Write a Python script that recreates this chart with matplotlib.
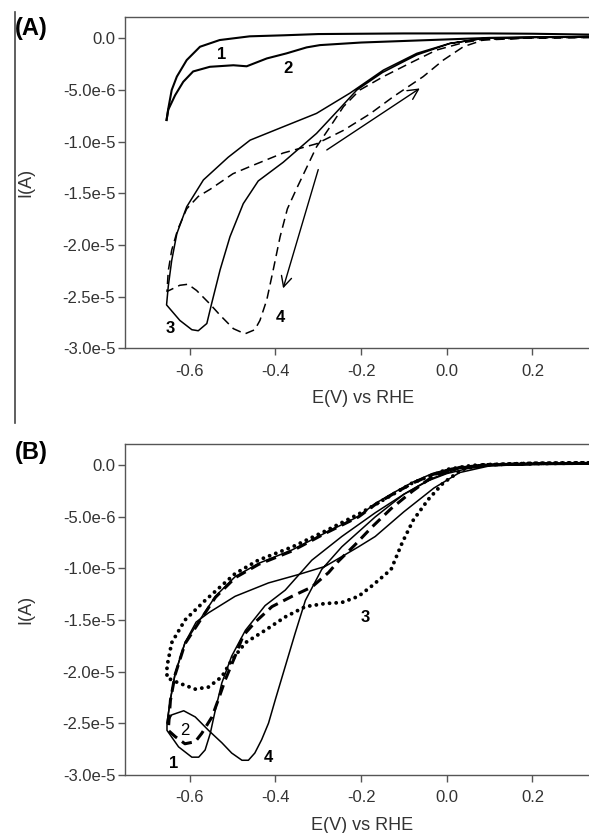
import numpy as np
import matplotlib.pyplot as plt
from matplotlib.lines import Line2D

plt.rcParams['font.family'] = ['Liberation Sans', 'DejaVu Sans']

# currents are in microamps, converted to A when plotted
scale = 1e-6

# ---- panel (A) ----
a1_E = [0.36, 0.2, 0.1, 0.0, -0.1, -0.2, -0.3, -0.38, -0.46, -0.53, -0.576, -0.607, -0.63, -0.642, -0.65, -0.654]
a1_I = [0.35, 0.45, 0.48, 0.48, 0.48, 0.45, 0.42, 0.3, 0.2, -0.16, -0.81, -2.1, -3.7, -5.0, -6.8, -7.9]

a2_E = [-0.654, -0.65, -0.634, -0.615, -0.592, -0.553, -0.498, -0.467, -0.42, -0.374, -0.327, -0.296,
        -0.2, -0.1, 0.0, 0.1, 0.2, 0.36]
a2_I = [-7.9, -6.9, -5.5, -4.2, -3.2, -2.75, -2.6, -2.7, -1.94, -1.45, -0.87, -0.65,
        -0.4, -0.25, -0.1, 0.05, 0.12, 0.15]

a3_E = [0.36, 0.2, 0.085, 0.007, -0.07, -0.148, -0.226, -0.304, -0.382, -0.459, -0.51, -0.568, -0.607,
        -0.63, -0.642, -0.65, -0.654, -0.623, -0.595, -0.58, -0.56, -0.549, -0.529, -0.506, -0.475,
        -0.44, -0.382, -0.304, -0.25, -0.21, -0.15, -0.07, 0.007, 0.085, 0.2, 0.36]
a3_I = [0.2, 0.1, 0.0, -0.48, -1.45, -3.07, -5.3, -7.26, -8.56, -9.85, -11.5, -13.7, -16.3,
        -18.9, -21.5, -24.0, -25.8, -27.3, -28.2, -28.3, -27.6, -25.7, -22.4, -19.2, -16.0,
        -13.8, -12.0, -9.2, -6.8, -5.0, -3.3, -1.6, -0.5, 0.0, 0.1, 0.2]

a4_E = [0.36, 0.2, 0.085, 0.04, -0.024, -0.086, -0.148, -0.203, -0.241, -0.273, -0.304, -0.327, -0.35,
        -0.372, -0.389, -0.405, -0.42, -0.436, -0.448, -0.471, -0.498, -0.529, -0.553, -0.584, -0.604,
        -0.623, -0.653, -0.65, -0.642, -0.628, -0.607, -0.58, -0.552, -0.499, -0.459, -0.382, -0.304,
        -0.241, -0.179, -0.125, -0.055, -0.008, 0.039, 0.085, 0.2, 0.36]
a4_I = [0.1, 0.05, -0.1, -0.4, -1.13, -2.4, -3.7, -5.0, -6.6, -8.6, -10.5, -12.5, -14.5,
        -16.5, -19.2, -22.4, -25.3, -27.3, -28.2, -28.6, -28.1, -26.8, -25.7, -24.4, -23.8,
        -23.9, -24.5, -22.5, -20.5, -18.5, -16.5, -15.3, -14.6, -13.1, -12.4, -11.1, -10.2,
        -8.9, -7.3, -5.65, -3.7, -2.1, -0.8, -0.16, 0.05, 0.1]

a_labels = ['1', '2', '3', '4']
a_label_E = [-0.526, -0.37, -0.646, -0.389]
a_label_I = [-1.6, -2.9, -28.1, -27.0]

a_arrow_start = [(-0.28, -10.8), (-0.30, -12.7)]
a_arrow_end = [(-0.063, -4.84), (-0.382, -24.2)]

# ---- panel (B) ----
b1_E = [0.36, 0.2, 0.1, 0.06, 0.01, -0.034, -0.078, -0.122, -0.167, -0.206, -0.284, -0.361, -0.439,
        -0.494, -0.54, -0.575, -0.611, -0.634, -0.645, -0.653, -0.653, -0.626, -0.595, -0.579, -0.564,
        -0.552, -0.54, -0.525, -0.502, -0.47, -0.424, -0.377, -0.315, -0.245, -0.167, -0.1, -0.03,
        0.03, 0.1, 0.2, 0.36]
b1_I = [0.2, 0.15, 0.05, -0.05, -0.3, -0.8, -1.6, -2.6, -3.7, -4.95, -6.56, -8.2, -9.5,
        -10.8, -12.7, -14.9, -17.2, -20.2, -22.7, -25.0, -25.7, -27.3, -28.3, -28.3, -27.6,
        -26.0, -23.7, -21.1, -18.5, -16.0, -13.6, -12.1, -9.2, -6.9, -4.6, -2.8, -1.2,
        -0.3, 0.0, 0.1, 0.15]

b2_E = [0.36, 0.2, 0.1, 0.06, 0.01, -0.034, -0.078, -0.122, -0.167, -0.206, -0.284, -0.361, -0.439,
        -0.494, -0.54, -0.575, -0.611, -0.634, -0.645, -0.65, -0.634, -0.611, -0.587, -0.572, -0.548,
        -0.533, -0.517, -0.494, -0.475, -0.447, -0.408, -0.361, -0.315, -0.276, -0.253, -0.214,
        -0.175, -0.13, -0.08, -0.03, 0.03, 0.1, 0.2, 0.36]
b2_I = [0.2, 0.15, 0.05, -0.1, -0.4, -0.9, -1.7, -2.7, -3.8, -5.0, -6.6, -8.3, -9.6,
        -10.9, -12.8, -15.0, -17.3, -20.3, -22.8, -25.7, -26.3, -27.0, -26.8, -26.0, -24.4,
        -22.7, -20.8, -18.5, -16.5, -15.2, -13.7, -12.7, -11.8, -10.4, -9.3, -7.7,
        -6.0, -4.2, -2.5, -1.0, -0.2, 0.05, 0.15, 0.2]

b3_E = [0.36, 0.2, 0.089, 0.036, -0.008, -0.043, -0.078, -0.104, -0.13, -0.175, -0.206, -0.245, -0.284,
        -0.33, -0.377, -0.424, -0.47, -0.502, -0.525, -0.556, -0.587, -0.626, -0.653, -0.653, -0.642,
        -0.611, -0.564, -0.494, -0.44, -0.36, -0.28, -0.2, -0.15, -0.08, 0.0, 0.06, 0.2, 0.36]
b3_I = [0.25, 0.2, 0.07, -0.4, -1.7, -3.3, -5.3, -7.5, -10.1, -11.7, -12.7, -13.3, -13.4,
        -13.7, -14.7, -16.0, -17.2, -18.9, -20.5, -21.5, -21.7, -21.1, -20.6, -19.5, -17.2,
        -15.0, -13.1, -10.5, -9.2, -7.9, -6.3, -4.6, -3.4, -1.7, -0.4, 0.0, 0.2, 0.25]

b4_E = [0.36, 0.2, 0.1, 0.05, 0.0, -0.05, -0.1, -0.167, -0.245, -0.292, -0.33, -0.354, -0.377, -0.40,
        -0.416, -0.432, -0.448, -0.463, -0.478, -0.502, -0.525, -0.556, -0.587, -0.614, -0.642, -0.653,
        -0.645, -0.634, -0.611, -0.585, -0.556, -0.494, -0.416, -0.347, -0.284, -0.206, -0.167, -0.1,
        -0.03, 0.03, 0.1, 0.2, 0.36]
b4_I = [0.15, 0.1, 0.0, -0.3, -0.8, -1.6, -2.8, -5.0, -7.9, -10.1, -13.1, -16.3, -19.5, -22.7,
        -25.0, -26.6, -27.9, -28.6, -28.6, -27.9, -26.9, -25.7, -24.4, -23.8, -24.2, -25.0,
        -22.7, -20.2, -17.2, -15.2, -14.3, -12.7, -11.4, -10.6, -9.8, -7.9, -6.9, -4.5,
        -2.2, -0.7, -0.05, 0.1, 0.15]

b_labels = ['1', '2', '3', '4']
b_label_E = [-0.638, -0.611, -0.19, -0.416]
b_label_I = [-28.9, -25.7, -14.8, -28.3]

x_ticks = [-0.6, -0.4, -0.2, 0.0, 0.2]
x_tick_labels = ['-0.6', '-0.4', '-0.2', '0.0', '0.2']
y_ticks = [0.0, -5e-6, -1e-5, -1.5e-5, -2e-5, -2.5e-5, -3e-5]
y_tick_labels = ['0.0', '-5.0e-6', '-1.0e-5', '-1.5e-5', '-2.0e-5', '-2.5e-5', '-3.0e-5']

W, H = 589, 833
fig = plt.figure(figsize=(W / 100, H / 100), dpi=100)

ax_a = fig.add_axes([125 / W, 1 - 348.3 / H, 476 / W, 331.6 / H])
ax_b = fig.add_axes([125 / W, 1 - 774.7 / H, 476 / W, 331.0 / H])


def style_axes(ax):
    ax.set_xlim(-0.751, 0.36)
    ax.set_ylim(-3.0e-5, 2.1e-6)
    ax.set_xticks(x_ticks)
    ax.set_xticklabels(x_tick_labels)
    ax.set_yticks(y_ticks)
    ax.set_yticklabels(y_tick_labels)
    for s in ax.spines.values():
        s.set_color('#555555')
        s.set_linewidth(1.0)
    ax.tick_params(direction='out', length=5, width=1, color='#555555',
                   labelsize=12, labelcolor='#333333')
    ax.tick_params(axis='x', pad=6)
    ax.tick_params(axis='y', pad=2)


def cur(vals):
    return np.array(vals) * scale


style_axes(ax_a)
ax_a.plot(a1_E, cur(a1_I), color='black', lw=1.5)
ax_a.plot(a2_E, cur(a2_I), color='black', lw=1.5)
ax_a.plot(a3_E, cur(a3_I), color='black', lw=1.1)
ax_a.plot(a4_E, cur(a4_I), color='black', lw=1.1, ls=(0, (6, 3.5)))
for t, e, i in zip(a_labels, a_label_E, a_label_I):
    ax_a.text(e, i * scale, t, fontsize=12, fontweight='bold', ha='center', va='center')
for (e0, i0), (e1, i1) in zip(a_arrow_start, a_arrow_end):
    ax_a.annotate('', xy=(e1, i1 * scale), xytext=(e0, i0 * scale),
                  arrowprops=dict(arrowstyle='->,head_length=0.5,head_width=0.25',
                                  lw=1.0, color='black', mutation_scale=15,
                                  shrinkA=0, shrinkB=0))

style_axes(ax_b)
ax_b.plot(b1_E, cur(b1_I), color='black', lw=1.1)
ax_b.plot(b4_E, cur(b4_I), color='black', lw=1.1)
ax_b.plot(b2_E, cur(b2_I), color='black', lw=2.2, ls=(0, (3.5, 2)))
ax_b.plot(b3_E, cur(b3_I), color='black', lw=2.8, ls=(0, (0.01, 1.7)),
          dash_capstyle='round')
for t, e, i in zip(b_labels, b_label_E, b_label_I):
    ax_b.text(e, i * scale, t, fontsize=12, fontweight='bold' if t != '2' else 'normal',
              ha='center', va='center')

# panel letters and axis titles
fig.text(15 / W, 1 - 28 / H, '(A)', fontsize=17, fontweight='bold', ha='left', va='center')
fig.text(15 / W, 1 - 452 / H, '(B)', fontsize=17, fontweight='bold', ha='left', va='center')
fig.text(363 / W, 1 - 398 / H, 'E(V) vs RHE', fontsize=13, color='#333333', ha='center', va='center')
fig.text(362 / W, 1 - 825 / H, 'E(V) vs RHE', fontsize=13, color='#333333', ha='center', va='center')
fig.text(26 / W, 1 - 182 / H, 'I(A)', fontsize=13, color='#333333', rotation=90, ha='center', va='center')
fig.text(26 / W, 1 - 609 / H, 'I(A)', fontsize=13, color='#333333', rotation=90, ha='center', va='center')

fig.add_artist(Line2D([15 / W, 15 / W], [1 - 12 / H, 1 - 423 / H], color='#444444', lw=1.2))

fig.savefig('out.png', dpi=100)
